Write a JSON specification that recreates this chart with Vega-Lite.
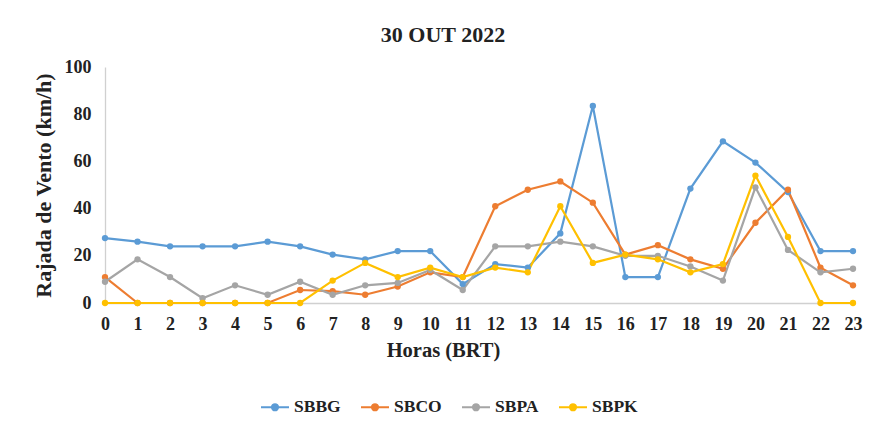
{
  "$schema": "https://vega.github.io/schema/vega-lite/v6.json",
  "autosize": "none",
  "width": 748,
  "height": 236,
  "padding": {"left": 105, "top": 67, "right": 19, "bottom": 120},
  "background": "white",
  "title": {"text": "30 OUT 2022", "font": "Liberation Serif", "fontSize": 22, "fontWeight": "bold", "color": "#222222", "anchor": "middle", "dx": -36, "offset": 11},
  "datasets": {
    "wind": [
      {"h":0,"s":"SBBG","v":27.5},{"h":1,"s":"SBBG","v":26},{"h":2,"s":"SBBG","v":24},{"h":3,"s":"SBBG","v":24},{"h":4,"s":"SBBG","v":24},{"h":5,"s":"SBBG","v":26},{"h":6,"s":"SBBG","v":24},{"h":7,"s":"SBBG","v":20.5},{"h":8,"s":"SBBG","v":18.5},{"h":9,"s":"SBBG","v":22},{"h":10,"s":"SBBG","v":22},{"h":11,"s":"SBBG","v":8},{"h":12,"s":"SBBG","v":16.5},{"h":13,"s":"SBBG","v":15},{"h":14,"s":"SBBG","v":29.5},{"h":15,"s":"SBBG","v":83.5},{"h":16,"s":"SBBG","v":11},{"h":17,"s":"SBBG","v":11},{"h":18,"s":"SBBG","v":48.5},{"h":19,"s":"SBBG","v":68.5},{"h":20,"s":"SBBG","v":59.5},{"h":21,"s":"SBBG","v":47},{"h":22,"s":"SBBG","v":22},{"h":23,"s":"SBBG","v":22},
      {"h":0,"s":"SBCO","v":11},{"h":1,"s":"SBCO","v":0},{"h":2,"s":"SBCO","v":0},{"h":3,"s":"SBCO","v":0},{"h":4,"s":"SBCO","v":0},{"h":5,"s":"SBCO","v":0},{"h":6,"s":"SBCO","v":5.5},{"h":7,"s":"SBCO","v":5},{"h":8,"s":"SBCO","v":3.5},{"h":9,"s":"SBCO","v":7},{"h":10,"s":"SBCO","v":13},{"h":11,"s":"SBCO","v":11},{"h":12,"s":"SBCO","v":41},{"h":13,"s":"SBCO","v":48},{"h":14,"s":"SBCO","v":51.5},{"h":15,"s":"SBCO","v":42.5},{"h":16,"s":"SBCO","v":20.5},{"h":17,"s":"SBCO","v":24.5},{"h":18,"s":"SBCO","v":18.5},{"h":19,"s":"SBCO","v":14.5},{"h":20,"s":"SBCO","v":34},{"h":21,"s":"SBCO","v":48},{"h":22,"s":"SBCO","v":15},{"h":23,"s":"SBCO","v":7.5},
      {"h":0,"s":"SBPA","v":9},{"h":1,"s":"SBPA","v":18.5},{"h":2,"s":"SBPA","v":11},{"h":3,"s":"SBPA","v":2},{"h":4,"s":"SBPA","v":7.5},{"h":5,"s":"SBPA","v":3.5},{"h":6,"s":"SBPA","v":9},{"h":7,"s":"SBPA","v":3.5},{"h":8,"s":"SBPA","v":7.5},{"h":9,"s":"SBPA","v":8.5},{"h":10,"s":"SBPA","v":14},{"h":11,"s":"SBPA","v":5.5},{"h":12,"s":"SBPA","v":24},{"h":13,"s":"SBPA","v":24},{"h":14,"s":"SBPA","v":26},{"h":15,"s":"SBPA","v":24},{"h":16,"s":"SBPA","v":20},{"h":17,"s":"SBPA","v":20},{"h":18,"s":"SBPA","v":15.5},{"h":19,"s":"SBPA","v":9.5},{"h":20,"s":"SBPA","v":49},{"h":21,"s":"SBPA","v":22.5},{"h":22,"s":"SBPA","v":13},{"h":23,"s":"SBPA","v":14.5},
      {"h":0,"s":"SBPK","v":0},{"h":1,"s":"SBPK","v":0},{"h":2,"s":"SBPK","v":0},{"h":3,"s":"SBPK","v":0},{"h":4,"s":"SBPK","v":0},{"h":5,"s":"SBPK","v":0},{"h":6,"s":"SBPK","v":0},{"h":7,"s":"SBPK","v":9.5},{"h":8,"s":"SBPK","v":17},{"h":9,"s":"SBPK","v":11},{"h":10,"s":"SBPK","v":15},{"h":11,"s":"SBPK","v":11},{"h":12,"s":"SBPK","v":15},{"h":13,"s":"SBPK","v":13},{"h":14,"s":"SBPK","v":41},{"h":15,"s":"SBPK","v":17},{"h":16,"s":"SBPK","v":20.5},{"h":17,"s":"SBPK","v":18.5},{"h":18,"s":"SBPK","v":13},{"h":19,"s":"SBPK","v":16.5},{"h":20,"s":"SBPK","v":54},{"h":21,"s":"SBPK","v":28},{"h":22,"s":"SBPK","v":0},{"h":23,"s":"SBPK","v":0}
    ]
  },
  "data": {"name": "wind"},
  "mark": {"type": "line", "strokeWidth": 2.2, "point": {"filled": true, "size": 40}},
  "encoding": {
    "x": {
      "field": "h", "type": "quantitative",
      "scale": {"domain": [0, 23], "nice": false, "zero": false},
      "axis": {
        "title": "Horas (BRT)", "values": [0,1,2,3,4,5,6,7,8,9,10,11,12,13,14,15,16,17,18,19,20,21,22,23],
        "grid": false, "ticks": false, "domainColor": "#d0d0d0", "domainWidth": 1.3,
        "labelFont": "Liberation Serif", "labelFontSize": 18, "labelFontWeight": "bold", "labelColor": "#222222", "labelPadding": 12,
        "labelFlush": false, "labelOverlap": false,
        "titleFont": "Liberation Serif", "titleFontSize": 20.5, "titleFontWeight": "bold", "titleColor": "#222222", "titlePadding": 7,
        "titleX": 338
      }
    },
    "y": {
      "field": "v", "type": "quantitative",
      "scale": {"domain": [0, 100], "nice": false},
      "axis": {
        "title": "Rajada de Vento (km/h)", "values": [0,20,40,60,80,100],
        "grid": false, "ticks": false, "domainColor": "#d0d0d0", "domainWidth": 1.3,
        "labelFont": "Liberation Serif", "labelFontSize": 18, "labelFontWeight": "bold", "labelColor": "#222222", "labelPadding": 14,
        "titleFont": "Liberation Serif", "titleFontSize": 22, "titleFontWeight": "bold", "titleColor": "#222222", "titlePadding": 9
      }
    },
    "color": {
      "field": "s", "type": "nominal",
      "scale": {"domain": ["SBBG","SBCO","SBPA","SBPK"], "range": ["#5B9BD5","#ED7D31","#A5A5A5","#FFC000"]},
      "legend": {
        "title": null, "orient": "none", "direction": "horizontal",
        "legendX": 155, "legendY": 325,
        "symbolType": "M-1,0L1,0M-0.22,0A0.22,0.22 0 1 0 0.22,0A0.22,0.22 0 1 0 -0.22,0Z",
        "symbolSize": 784, "symbolStrokeWidth": 2,
        "labelFont": "Liberation Serif", "labelFontSize": 17.5, "labelFontWeight": "bold", "labelColor": "#222222",
        "labelOffset": 4, "columnPadding": 16,
        "encode": {"symbols": {"update": {"fill": {"scale": "color", "field": "value"}}}}
      }
    }
  },
  "config": {"view": {"stroke": null}}
}
